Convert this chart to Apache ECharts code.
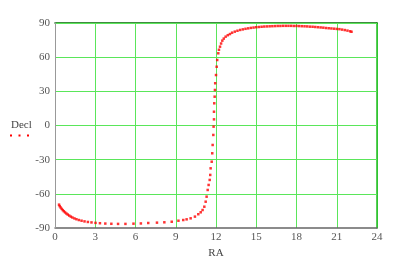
<!DOCTYPE html>
<html>
<head>
<meta charset="utf-8">
<script src="https://cdn.jsdelivr.net/npm/echarts@6/dist/echarts.min.js"></script>
<style>html,body{margin:0;padding:0;background:#fff;}#c{width:400px;height:272px;}</style>
</head>
<body>
<div id="c"></div>
<script>
var ra = [0.30,0.35,0.42,0.50,0.58,0.66,0.75,0.85,0.95,1.06,1.18,1.30,1.45,1.60,1.78,1.98,2.20,2.45,2.72,3.02,3.35,3.75,4.2,4.7,5.25,5.85,6.4,6.95,7.6,8.15,8.7,9.2,9.56,9.81,10.11,10.43,10.68,10.86,11.0,11.13,11.23,11.3,11.38,11.45,11.53,11.57,11.6,11.68,11.72,11.75,11.8,11.82,11.85,11.85,11.87,11.9,11.92,11.94,12.0,12.05,12.09,12.17,12.22,12.3,12.38,12.47,12.58,12.72,12.88,13.04,13.2,13.4,13.6,13.8,14.0,14.2,14.4,14.6,14.8,15.0,15.2,15.4,15.6,15.8,16.0,16.2,16.4,16.6,16.8,17.0,17.2,17.4,17.6,17.8,18.0,18.2,18.4,18.6,18.8,19.0,19.2,19.4,19.6,19.8,20.0,20.2,20.4,20.6,20.8,21.0,21.2,21.4,21.6,21.8,22.0,22.1];
var decl = [-69.5,-70.8,-72.0,-73.2,-74.3,-75.3,-76.3,-77.3,-78.2,-79.1,-80.0,-80.8,-81.6,-82.3,-83.0,-83.6,-84.2,-84.7,-85.1,-85.5,-85.8,-86.1,-86.3,-86.4,-86.4,-86.2,-86.0,-85.6,-85.3,-85.0,-84.5,-83.6,-83.0,-82.4,-81.5,-80.0,-77.9,-76.2,-74.2,-71.3,-66.9,-62.5,-56.6,-52.2,-47.8,-43.4,-37.6,-31.8,-24.4,-17.1,-8.3,-1.0,5.4,12.1,19.5,25.3,31.2,37.1,44.3,51.6,57.5,63.4,66.5,69.2,72.0,74.5,76.3,78.0,79.3,80.3,81.5,82.4,83.2,83.9,84.4,84.9,85.3,85.7,86.0,86.3,86.5,86.7,86.9,87.0,87.1,87.2,87.3,87.4,87.4,87.5,87.5,87.5,87.5,87.4,87.4,87.3,87.2,87.1,87.0,86.8,86.7,86.5,86.3,86.1,85.9,85.6,85.4,85.2,85.0,84.8,84.6,84.2,83.8,83.3,82.7,82.3];
var xTicks = [0,3,6,9,12,15,18,21,24];
var yTicks = [-90,-60,-30,0,30,60,90];

var pts = ra.map(function(v,i){return [v, decl[i]];});
var font = '"Liberation Serif","DejaVu Serif",serif';
var G = '#5ae65a';
var xGridColors = xTicks.map(function(t,i){return i===0 ? 'rgba(0,0,0,0)' : G;});
var yGridColors = yTicks.map(function(t,i){return i===0 ? 'rgba(0,0,0,0)' : G;});
var chart = echarts.init(document.getElementById('c'));
chart.setOption({
  animation:false,
  grid:{left:55,right:23,top:23,bottom:44},
  xAxis:[{
    type:'value', min:xTicks[0], max:xTicks[xTicks.length-1], interval:3,
    name:'RA', nameLocation:'middle', nameGap:18,
    nameTextStyle:{fontFamily:font,fontSize:11,color:'#444'},
    axisLine:{show:true,onZero:false,lineStyle:{color:'#666',width:1.5}},
    axisTick:{show:false},
    axisLabel:{fontFamily:font,fontSize:11,color:'#555',margin:4},
    splitLine:{show:true,lineStyle:{color:xGridColors,width:1}},
    z:3
  },{
    type:'value', position:'top', min:0, max:24,
    axisLine:{show:true,onZero:false,lineStyle:{color:'#006400',width:1.5}},
    axisTick:{show:false},axisLabel:{show:false},splitLine:{show:false},
    z:3
  }],
  yAxis:[{
    type:'value', min:yTicks[0], max:yTicks[yTicks.length-1], interval:30,
    axisLine:{show:true,onZero:false,lineStyle:{color:'#999',width:1}},
    axisTick:{show:false},
    axisLabel:{fontFamily:font,fontSize:11,color:'#555',margin:5},
    splitLine:{show:true,lineStyle:{color:yGridColors,width:1}},
    z:4
  },{
    type:'value', position:'right', min:-90, max:90,
    axisLine:{show:true,onZero:false,lineStyle:{color:'#22bb22',width:1.5}},
    axisTick:{show:false},axisLabel:{show:false},splitLine:{show:false},
    z:3
  }],
  graphic:[
    {type:'text',left:11,top:120,style:{text:'Decl',font:'11px '+font,fill:'#444'}},
    {type:'rect',shape:{x:10,y:134.5,width:2,height:2},style:{fill:'#ff0000'}},
    {type:'rect',shape:{x:18.5,y:134.5,width:2,height:2},style:{fill:'#ff0000'}},
    {type:'rect',shape:{x:27,y:134.5,width:2,height:2},style:{fill:'#ff0000'}}
  ],
  series:[{
    type:'scatter', data:pts, symbol:'rect', symbolSize:2.5,
    itemStyle:{color:'#ff0000'}, z:5
  }]
});
</script>
</body>
</html>
